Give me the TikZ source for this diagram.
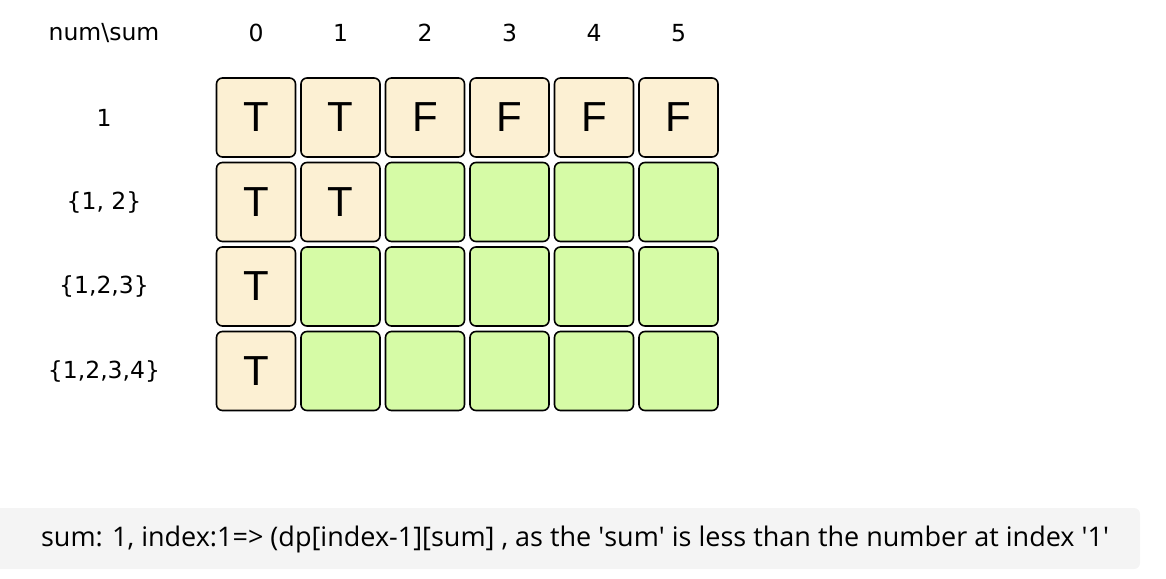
\documentclass[tikz,border=0pt]{standalone}
\usepackage{fontspec}
\setmainfont{Open Sans}
\newfontfamily\labelfont{DejaVu Sans}
\newfontfamily\cellfont{Liberation Sans}
\usetikzlibrary{positioning}
\definecolor{tcell}{HTML}{FCF0D3}
\definecolor{ecell}{HTML}{D6FBA6}
\definecolor{notebg}{HTML}{F4F4F4}

\begin{document}
\begin{tikzpicture}[x=1pt, y=-1pt,
    cell/.style={draw=black, line width=1.6pt, rounded corners=6pt, minimum size=79pt, inner sep=0pt, font=\cellfont\fontsize{42}{42}\selectfont},
    tf/.style={cell, fill=tcell},
    empty/.style={cell, fill=ecell},
    lbl/.style={font=\labelfont\fontsize{23.5}{27}\selectfont}]
    \useasboundingbox (0,0) rectangle (1166,578);
    % header row
    \node[lbl] (corner) at (104,33) {num\textbackslash sum};
    \node[lbl] (s0) at (256,33) {0};
    \node[lbl] (s1) at (340.5,33) {1};
    \node[lbl] (s2) at (425,33) {2};
    \node[lbl] (s3) at (509.5,33) {3};
    \node[lbl] (s4) at (594,33) {4};
    \node[lbl] (s5) at (678.5,33) {5};
    % row labels
    \node[lbl] (n1) at (104,117.5) {1};
    \node[lbl] (n2) at (104,202) {\{1, 2\}};
    \node[lbl] (n3) at (104,286.5) {\{1,2,3\}};
    \node[lbl] (n4) at (104,371) {\{1,2,3,4\}};
    % dp table
    \node[tf] (c10) at (256,117.5) {T};
    \node[tf] (c11) at (340.5,117.5) {T};
    \node[tf] (c12) at (425,117.5) {F};
    \node[tf] (c13) at (509.5,117.5) {F};
    \node[tf] (c14) at (594,117.5) {F};
    \node[tf] (c15) at (678.5,117.5) {F};
    \node[tf] (c20) at (256,202) {T};
    \node[tf] (c21) at (340.5,202) {T};
    \node[empty] (c22) at (425,202) {};
    \node[empty] (c23) at (509.5,202) {};
    \node[empty] (c24) at (594,202) {};
    \node[empty] (c25) at (678.5,202) {};
    \node[tf] (c30) at (256,286.5) {T};
    \node[empty] (c31) at (340.5,286.5) {};
    \node[empty] (c32) at (425,286.5) {};
    \node[empty] (c33) at (509.5,286.5) {};
    \node[empty] (c34) at (594,286.5) {};
    \node[empty] (c35) at (678.5,286.5) {};
    \node[tf] (c40) at (256,371) {T};
    \node[empty] (c41) at (340.5,371) {};
    \node[empty] (c42) at (425,371) {};
    \node[empty] (c43) at (509.5,371) {};
    \node[empty] (c44) at (594,371) {};
    \node[empty] (c45) at (678.5,371) {};
    % note
    \fill[notebg, rounded corners=6pt] (-10,508) rectangle (1140,569);
    \node[font=\fontsize{27}{31}\selectfont] (note) at (575,539) {sum: 1, index:1=> (dp[index-1][sum] , as the \textquotesingle sum\textquotesingle{} is less than the number at index \textquotesingle 1\textquotesingle};
\end{tikzpicture}
\end{document}
